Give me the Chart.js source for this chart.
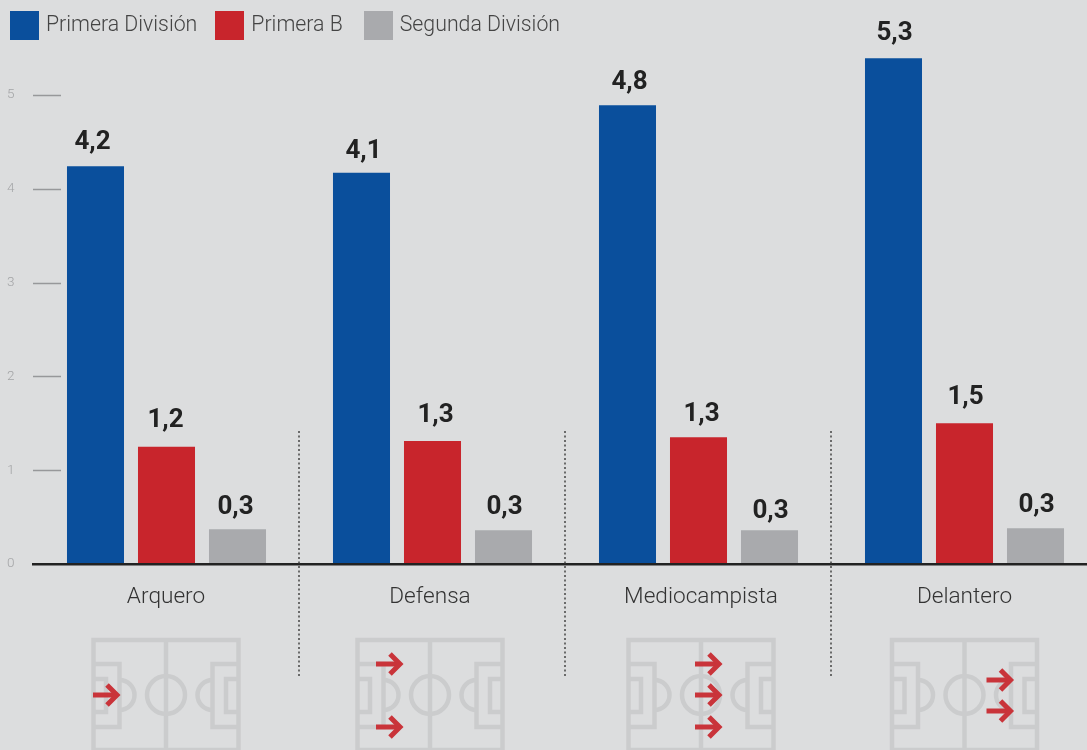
<!DOCTYPE html>
<html lang="es">
<head>
  <meta charset="UTF-8" />
  <title>Primera División, Primera B, Segunda División</title>
  <script src="https://cdn.jsdelivr.net/npm/chart.js"></script>
  <style>
    html, body {
      margin: 0;
      padding: 0;
      width: 1087px;
      height: 750px;
      overflow: hidden;
      background-color: #dcddde;
    }
    .chart-container {
      position: absolute;
      left: 0;
      top: 0;
      width: 1087px;
      height: 750px;
      overflow: hidden;
    }
    #legend {
      position: absolute;
      left: 10px;
      top: 11px;
      display: flex;
      font-family: Roboto, sans-serif;
      font-weight: 300;
      font-size: 21.3px;
      line-height: 29px;
      color: #444;
    }
    #legend .item { display: flex; margin-right: 21px; white-space: nowrap; }
    #legend .item:first-child { margin-right: 18px; }
    #legend .box { width: 29px; height: 29px; margin-right: 7px; }
    #legend .text { position: relative; top: -2px; }
  </style>
</head>
<body>
  <div class="chart-container">
    <canvas id="barChart" width="1098" height="750"></canvas>
  </div>
  <div id="legend"></div>

  <script>
    const categories = ['Arquero', 'Defensa', 'Mediocampista', 'Delantero'];
    const seriesNames = ['Primera División', 'Primera B', 'Segunda División'];
    const primeraDivision = [4.24, 4.17, 4.89, 5.39];
    const primeraB = [1.25, 1.31, 1.35, 1.50];
    const segundaDivision = [0.37, 0.36, 0.36, 0.38];
    const primeraDivisionLabels = ['4,2', '4,1', '4,8', '5,3'];
    const primeraBLabels = ['1,2', '1,3', '1,3', '1,5'];
    const segundaDivisionLabels = ['0,3', '0,3', '0,3', '0,3'];
    const yTicks = [0, 1, 2, 3, 4, 5];
    // arrows shown on each pitch
    const arrowRows = [[695], [664, 727], [664, 695, 727], [680, 711]];
    const arrowStart = [-73, -54, -6, 22];

    const colors = ['#0a4f9c', '#c8252c', '#a9aaad'];
    const valueLabels = [primeraDivisionLabels, primeraBLabels, segundaDivisionLabels];
    // the labels and pitches sit a little off the bar group centres
    const groupNudge = [-0.5, -2.5, 2.5, 0];
    // hand placed value labels, offset from the default spot above each bar
    const labelNudgeX = [[-3, 2, 2, 1], [-1, 3, 3, 1], [-2, 1, 1, 1]];
    const labelNudgeY = [[0, 3, 1, -1], [-2, -2, 1, -2], [2, 1, 5, 1]];

    const legend = document.getElementById('legend');
    seriesNames.forEach((name, i) => {
      const item = document.createElement('div');
      item.className = 'item';
      item.innerHTML = '<div class="box" style="background:' + colors[i] + '"></div><div class="text">' + name + '</div>';
      legend.appendChild(item);
    });

    function drawPitch(ctx, cx) {
      const top = 640, bottom = 750, mid = 695, half = 72.5;
      ctx.save();
      ctx.strokeStyle = '#cbcccd';
      ctx.lineWidth = 4.5;
      ctx.strokeRect(cx - half, top, half * 2, bottom - top);
      ctx.beginPath();
      ctx.moveTo(cx, top);
      ctx.lineTo(cx, bottom);
      ctx.stroke();
      ctx.beginPath();
      ctx.arc(cx, mid, 19, 0, Math.PI * 2);
      ctx.stroke();
      [-1, 1].forEach(side => {
        const edge = cx + side * half;
        const box = edge - side * 26;
        const goal = edge - side * 12.5;
        ctx.beginPath();
        ctx.moveTo(edge, 664);
        ctx.lineTo(box, 664);
        ctx.lineTo(box, 727);
        ctx.lineTo(edge, 727);
        ctx.moveTo(edge, 679);
        ctx.lineTo(goal, 679);
        ctx.lineTo(goal, 712);
        ctx.lineTo(edge, 712);
        ctx.stroke();
        ctx.beginPath();
        if (side < 0) ctx.arc(box, mid, 15, -Math.PI / 2, Math.PI / 2);
        else ctx.arc(box, mid, 15, Math.PI / 2, -Math.PI / 2);
        ctx.stroke();
      });
      ctx.restore();
    }

    function drawArrow(ctx, x, y) {
      ctx.save();
      ctx.strokeStyle = '#c9343a';
      ctx.lineWidth = 5;
      ctx.beginPath();
      ctx.moveTo(x, y);
      ctx.lineTo(x + 24, y);
      ctx.stroke();
      ctx.beginPath();
      ctx.moveTo(x + 14, y - 10);
      ctx.lineTo(x + 24, y);
      ctx.lineTo(x + 14, y + 10);
      ctx.stroke();
      ctx.restore();
    }

    const decorations = {
      id: 'decorations',
      afterDraw(chart) {
        const ctx = chart.ctx;
        const x = chart.scales.x;
        const y = chart.scales.y;

        // short marks next to the y axis labels
        ctx.save();
        ctx.strokeStyle = '#97989a';
        ctx.lineWidth = 1.5;
        yTicks.slice(1).forEach(v => {
          const py = Math.round(y.getPixelForValue(v)) + 0.5;
          ctx.beginPath();
          ctx.moveTo(33, py);
          ctx.lineTo(61, py);
          ctx.stroke();
        });
        ctx.restore();

        // dotted separators between the groups
        ctx.save();
        ctx.strokeStyle = '#444';
        ctx.lineWidth = 1.5;
        ctx.setLineDash([2, 2.5]);
        categories.slice(1).forEach((c, i) => {
          const px = (x.getPixelForValue(i) + x.getPixelForValue(i + 1)) / 2 - 0.5;
          ctx.beginPath();
          ctx.moveTo(px, 431);
          ctx.lineTo(px, 677);
          ctx.stroke();
        });
        ctx.restore();

        // category names, pitches and arrows
        categories.forEach((c, i) => {
          const cx = x.getPixelForValue(i) + groupNudge[i];
          ctx.save();
          ctx.font = '300 22.6px Roboto, sans-serif';
          ctx.fillStyle = '#333';
          ctx.textAlign = 'center';
          ctx.textBaseline = 'middle';
          ctx.fillText(c, cx, 597);
          ctx.restore();
          drawPitch(ctx, cx);
          arrowRows[i].forEach(py => drawArrow(ctx, cx + arrowStart[i], py));
        });

        // value labels above the bars
        ctx.save();
        ctx.font = '700 26px Roboto, sans-serif';
        ctx.fillStyle = '#222';
        ctx.textAlign = 'center';
        ctx.textBaseline = 'middle';
        valueLabels.forEach((labels, d) => {
          chart.getDatasetMeta(d).data.forEach((bar, i) => {
            ctx.fillText(labels[i], bar.x + labelNudgeX[d][i], bar.y - 24 + labelNudgeY[d][i]);
          });
        });
        ctx.restore();
      }
    };

    new Chart(document.getElementById('barChart').getContext('2d'), {
      type: 'bar',
      data: {
        labels: categories,
        datasets: [
          { label: seriesNames[0], data: primeraDivision, backgroundColor: colors[0] },
          { label: seriesNames[1], data: primeraB, backgroundColor: colors[1] },
          { label: seriesNames[2], data: segundaDivision, backgroundColor: colors[2] }
        ]
      },
      options: {
        responsive: false,
        animation: false,
        layout: { padding: { top: 48, bottom: 186, left: 0, right: 0.5 } },
        datasets: { bar: { categoryPercentage: 0.8008, barPercentage: 0.803 } },
        plugins: { legend: { display: false }, tooltip: { enabled: false } },
        scales: {
          x: {
            grid: { drawOnChartArea: false, drawTicks: false },
            border: { color: '#222', width: 2.5, z: 1 },
            ticks: { display: false }
          },
          y: {
            min: 0,
            max: 5.5,
            afterFit(axis) { axis.width = 33.5; },
            afterBuildTicks(axis) { axis.ticks = yTicks.map(v => ({ value: v })); },
            grid: { display: false },
            border: { display: false },
            ticks: {
              padding: 11,
              labelOffset: 0,
              color: '#a3a4a6',
              crossAlign: 'near',
              font: { family: 'Roboto, sans-serif', size: 13.5, weight: '300' }
            }
          }
        }
      },
      plugins: [decorations]
    });
  </script>
</body>
</html>
